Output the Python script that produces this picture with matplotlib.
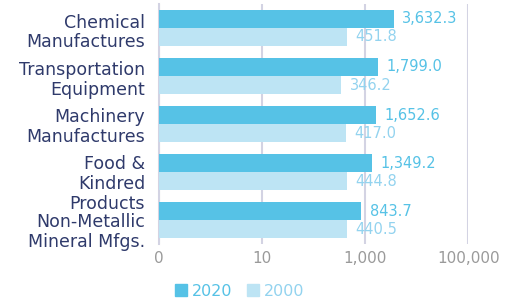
import matplotlib
matplotlib.use("Agg")
import matplotlib.pyplot as plt
import matplotlib.transforms as mtransforms
from matplotlib.patches import Patch
import numpy as np

# ----------------------------
# Data
# ----------------------------
categories = [
    "Chemical\nManufactures",
    "Transportation\nEquipment",
    "Machinery\nManufactures",
    "Food &\nKindred\nProducts",
    "Non-Metallic\nMineral Mfgs.",
]
values_2020 = [3632.3, 1799.0, 1652.6, 1349.2, 843.7]
values_2000 = [451.8, 346.2, 417.0, 444.8, 440.5]
series_names = ["2020", "2000"]

x_ticks = [0.1, 10, 1000, 100000]
x_tick_labels = ["0", "10", "1,000", "100,000"]

# ----------------------------
# Style
# ----------------------------
plt.rcParams["font.family"] = ["DejaVu Sans"]

c2020 = "#56c2e6"
c2000 = "#bde4f4"
lab2020 = "#56c2e6"
lab2000 = "#93d3ef"
navy = "#2f3a6b"
grid_c = "#d3d3e3"

# labels in the original sit a bit below their bar groups
label_drop_pt = [1.2, 1.0, 0.0, 6.5, 6.5]

fig = plt.figure(figsize=(5.05, 3.04), dpi=100)
ax = fig.add_axes([0.315, 0.197, 0.612, 0.79])

y = np.arange(len(categories))
h = 0.375
xmin = 0.1

ax.barh(y - h / 2, values_2020, height=h, left=xmin, color=c2020, zorder=3)
ax.barh(y + h / 2, values_2000, height=h, left=xmin, color=c2000, zorder=3)

for yi, v in zip(y, values_2020):
    ax.annotate(f"{v:,.1f}", (v, yi - h / 2), xytext=(6, 0),
                textcoords="offset points", va="center", ha="left",
                color=lab2020, fontsize=10.5)
for yi, v in zip(y, values_2000):
    ax.annotate(f"{v:,.1f}", (v, yi + h / 2), xytext=(6, 0),
                textcoords="offset points", va="center", ha="left",
                color=lab2000, fontsize=10.5)

ax.set_xscale("log")
ax.set_xlim(xmin, 100000)
ax.set_ylim(len(categories) - 0.5, -0.5)

ax.set_xticks(x_ticks)
ax.set_xticklabels(x_tick_labels)
ax.xaxis.set_minor_locator(matplotlib.ticker.NullLocator())
ax.tick_params(axis="x", length=0, pad=5, labelsize=11, labelcolor="#9a9a9a")

ax.set_yticks(y)
ax.set_yticklabels(categories, ha="right", linespacing=1.13)
ax.tick_params(axis="y", length=0, pad=10, labelsize=12.5, labelcolor=navy)

for lab, d in zip(ax.get_yticklabels(), label_drop_pt):
    lab.set_transform(lab.get_transform() +
                      mtransforms.ScaledTranslation(0, -d / 72, fig.dpi_scale_trans))

ax.grid(axis="x", color=grid_c, linewidth=1.5, zorder=0)
for s in ["top", "right", "bottom"]:
    ax.spines[s].set_visible(False)
ax.spines["left"].set_color(grid_c)
ax.spines["left"].set_linewidth(1.5)

handles = [Patch(color=c2020), Patch(color=c2000)]
leg = fig.legend(handles, series_names, loc="lower center",
                 bbox_to_anchor=(0.475, -0.03), ncol=2, frameon=False,
                 fontsize=11.5, handlelength=0.75, handleheight=0.75,
                 handletextpad=0.3, columnspacing=0.9)
for t, c in zip(leg.get_texts(), [lab2020, lab2000]):
    t.set_color(c)

plt.savefig("out.png", dpi=100)
plt.close()
